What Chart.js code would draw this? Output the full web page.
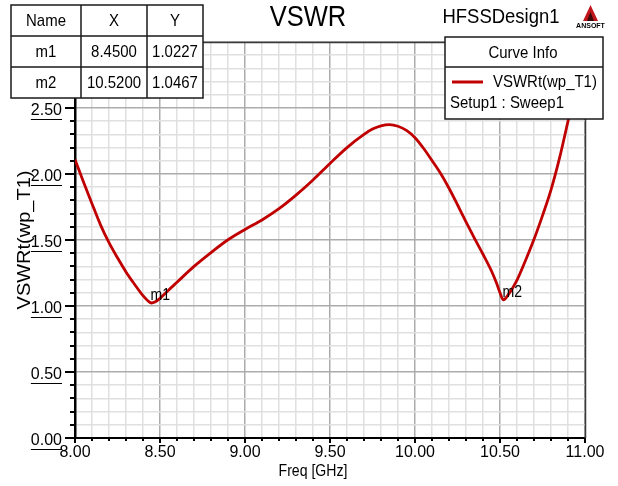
<!DOCTYPE html>
<html><head><meta charset="utf-8">
<script src="https://cdn.jsdelivr.net/npm/chart.js@4/dist/chart.umd.min.js"></script>
<style>html,body{margin:0;padding:0;background:#fff;}canvas{display:block;}</style>
</head><body>
<canvas id="c" width="618" height="486"></canvas>
<script>
// ---- data ----
const freqGHz = [8.00,8.05,8.10,8.15,8.20,8.25,8.30,8.35,8.40,8.43,8.45,8.47,8.50,8.55,8.60,8.70,8.80,8.90,9.00,9.10,9.20,9.30,9.40,9.50,9.60,9.70,9.75,9.80,9.85,9.90,9.95,10.00,10.05,10.10,10.15,10.20,10.25,10.30,10.35,10.40,10.45,10.48,10.50,10.52,10.55,10.60,10.65,10.70,10.75,10.80,10.85,10.90,10.95,11.00];
const vswr    = [2.11,1.94,1.775,1.615,1.48,1.365,1.258,1.165,1.078,1.038,1.0227,1.030,1.058,1.120,1.180,1.300,1.405,1.502,1.580,1.652,1.737,1.840,1.955,2.080,2.200,2.300,2.340,2.365,2.374,2.362,2.330,2.275,2.195,2.102,2.005,1.892,1.767,1.637,1.512,1.392,1.265,1.172,1.100,1.0467,1.088,1.196,1.345,1.505,1.685,1.880,2.120,2.400,2.680,2.950];
const markerNames = ['m1','m2'];
const markerFreq  = [8.4500, 10.5200];
const markerVswr  = [1.0227, 1.0467];
const xTickLabels = ['8.00','8.50','9.00','9.50','10.00','10.50','11.00'];
const yTickLabels = ['0.00','0.50','1.00','1.50','2.00','2.50'];
const tableHeader = ['Name','X','Y'];
const chartTitle = 'VSWR';
const designName = 'HFSSDesign1';
const seriesName = 'VSWRt(wp_T1)';
const setupName = 'Setup1 : Sweep1';
const xTitle = 'Freq [GHz]';
const yTitle = 'VSWRt(wp_T1)';

const FONT = '"Liberation Sans", Arial, sans-serif';
const SX = 0.88;

function isMajor(v){ return Math.abs(Math.round(v*10)) % 5 === 0; }

function txt(ctx, s, x, y, size, align, rot){
  ctx.save();
  ctx.translate(x, y);
  if (rot) { ctx.rotate(rot); ctx.scale(1, SX); } else { ctx.scale(SX, 1); }
  ctx.font = size + 'px ' + FONT;
  ctx.textAlign = align || 'center';
  ctx.textBaseline = 'middle';
  ctx.fillStyle = '#000';
  ctx.fillText(s, 0, 0);
  ctx.restore();
}

const decor = {
  id: 'decor',
  afterDraw(chart){
    const ctx = chart.ctx, ca = chart.chartArea;
    const xs = chart.scales.x, ys = chart.scales.y;
    ctx.save();
    // plot frame top / right
    ctx.strokeStyle = '#3a3a3a'; ctx.lineWidth = 1.5;
    ctx.beginPath();
    ctx.moveTo(ca.left, ca.top + 0.5); ctx.lineTo(ca.right + 0.5, ca.top + 0.5);
    ctx.lineTo(ca.right + 0.5, ca.bottom);
    ctx.stroke();
    // axis tick marks
    ctx.strokeStyle = '#000'; ctx.lineWidth = 2;
    for (let i = 0; i <= 30; i++) {
      const v = i / 10, y = Math.round(ys.getPixelForValue(v));
      const len = (i % 5 === 0) ? 10 : 5;
      ctx.beginPath(); ctx.moveTo(ca.left - len, y); ctx.lineTo(ca.left, y); ctx.stroke();
    }
    for (let i = 0; i <= 30; i++) {
      const v = 8 + i / 10, x = Math.round(xs.getPixelForValue(v));
      const len = (i % 5 === 0) ? 5 : 3;
      ctx.beginPath(); ctx.moveTo(x, ca.bottom); ctx.lineTo(x, ca.bottom + len); ctx.stroke();
    }
    // underline y tick labels
    ctx.font = '16px ' + FONT;
    ctx.lineWidth = 1;
    yTickLabels.forEach((lab, i) => {
      const y = Math.round(ys.getPixelForValue(i * 0.5)) + 11.5;
      const w = ctx.measureText(lab).width;
      ctx.beginPath(); ctx.moveTo(ca.left - 13 - w, y); ctx.lineTo(ca.left - 13, y); ctx.stroke();
    });
    // marker labels
    markerNames.forEach((n, i) => {
      const px = xs.getPixelForValue(markerFreq[i]);
      const py = ys.getPixelForValue(markerVswr[i]);
      txt(ctx, n, px - 1, py - 7, 16, 'left');
    });
    // titles
    txt(ctx, chartTitle, 308, 18, 29, 'center');
    txt(ctx, designName, 501, 17, 21, 'center');
    txt(ctx, xTitle, 313, 472, 16, 'center');
    txt(ctx, yTitle, 25, 240, 20, 'center', -Math.PI / 2);
    // logo
    ctx.fillStyle = '#c0151b';
    ctx.beginPath(); ctx.moveTo(590.5, 5); ctx.lineTo(598, 21); ctx.lineTo(583, 21); ctx.closePath(); ctx.fill();
    ctx.fillStyle = '#3a0a0a';
    ctx.beginPath(); ctx.moveTo(590.5, 12); ctx.lineTo(594, 21); ctx.lineTo(587, 21); ctx.closePath(); ctx.fill();
    ctx.fillStyle = '#000';
    ctx.font = 'bold 7px ' + FONT; ctx.textAlign = 'center'; ctx.textBaseline = 'middle';
    ctx.fillText('ANSOFT', 590.5, 26);
    // marker table
    const tx = [11, 81, 147, 203], ty = [5, 36, 67, 98];
    ctx.fillStyle = '#fff'; ctx.fillRect(tx[0], ty[0], tx[3] - tx[0], ty[3] - ty[0]);
    ctx.strokeStyle = '#1a1a1a'; ctx.lineWidth = 1.5;
    ctx.strokeRect(tx[0], ty[0], tx[3] - tx[0], ty[3] - ty[0]);
    ctx.beginPath();
    [tx[1], tx[2]].forEach(x => { ctx.moveTo(x, ty[0]); ctx.lineTo(x, ty[3]); });
    [ty[1], ty[2]].forEach(y => { ctx.moveTo(tx[0], y); ctx.lineTo(tx[3], y); });
    ctx.stroke();
    const rows = [tableHeader].concat(markerNames.map((n, i) => [n, markerFreq[i].toFixed(4), markerVswr[i].toFixed(4)]));
    rows.forEach((r, ri) => {
      r.forEach((c, ci) => {
        txt(ctx, c, (tx[ci] + tx[ci + 1]) / 2, (ty[ri] + ty[ri + 1]) / 2 + 1, 17, 'center');
      });
    });
    // legend box
    const lx = 445, ly = 37, lw = 158, lh = 82;
    ctx.fillStyle = '#fff'; ctx.fillRect(lx, ly, lw, lh);
    ctx.strokeStyle = '#1a1a1a'; ctx.lineWidth = 1.5; ctx.strokeRect(lx, ly, lw, lh);
    ctx.beginPath(); ctx.moveTo(lx, 67); ctx.lineTo(lx + lw, 67); ctx.stroke();
    txt(ctx, 'Curve Info', 523, 53, 17, 'center');
    ctx.strokeStyle = '#c00000'; ctx.lineWidth = 3;
    ctx.beginPath(); ctx.moveTo(452, 82); ctx.lineTo(483, 82); ctx.stroke();
    txt(ctx, seriesName, 493, 82, 17, 'left');
    txt(ctx, setupName, 450, 103, 17, 'left');
    ctx.restore();
  }
};

const gridColor = (c) => {
  const v = c.tick ? c.tick.value : 0;
  return isMajor(v) ? '#acacac' : '#e0e0e0';
};

new Chart(document.getElementById('c'), {
  type: 'line',
  data: {
    datasets: [{
      label: seriesName,
      data: freqGHz.map((f, i) => ({ x: f, y: vswr[i] })),
      borderColor: '#c00000',
      borderWidth: 2.8,
      pointRadius: 0,
      cubicInterpolationMode: 'monotone',
      fill: false
    }]
  },
  options: {
    responsive: false,
    animation: false,
    layout: { padding: { top: 42, right: 33, bottom: 0, left: 0 } },
    plugins: { legend: { display: false }, title: { display: false }, tooltip: { enabled: false } },
    scales: {
      x: {
        type: 'linear', min: 8, max: 11,
        afterFit: (s) => { s.height = 48; },
        border: { display: true, color: '#000', width: 2 },
        grid: { color: gridColor, lineWidth: 1.5, drawTicks: false },
        ticks: {
          stepSize: 0.1, autoSkip: false, maxRotation: 0, padding: 5,
          color: '#000', font: { family: FONT, size: 16 },
          callback: (v) => isMajor(v) ? xTickLabels[Math.round((v - 8) / 0.5)] : ''
        }
      },
      y: {
        type: 'linear', min: 0, max: 3,
        afterFit: (s) => { s.width = 75; },
        border: { display: true, color: '#000', width: 2.5 },
        grid: { color: gridColor, lineWidth: 1.5, drawTicks: false },
        ticks: {
          stepSize: 0.1, autoSkip: false, padding: 13, labelOffset: 3,
          color: '#000', font: { family: FONT, size: 16 },
          callback: (v) => {
            const k = Math.round(v / 0.5);
            return (isMajor(v) && k < yTickLabels.length) ? yTickLabels[k] : '';
          }
        }
      }
    }
  },
  plugins: [decor]
});
</script>
</body></html>
